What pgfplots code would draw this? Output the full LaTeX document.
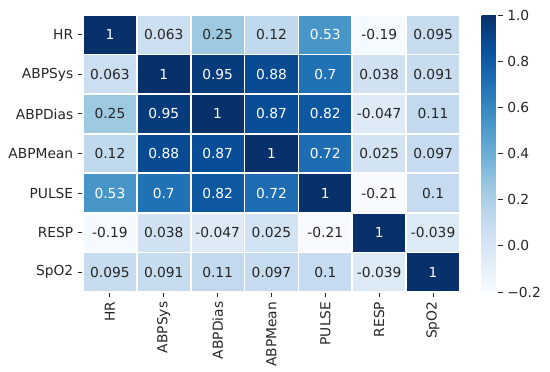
\documentclass[border=0pt]{standalone}
\usepackage{pgfplots}
\usepackage{pgfplotstable}
\pgfplotsset{compat=1.18}
\usepackage{fontspec}
\setmainfont{DejaVu Sans}
\definecolor{txt}{HTML}{262626}
\pgfplotstableread{
x y c
0 0 0.095
1 0 0.091
2 0 0.11
3 0 0.097
4 0 0.1
5 0 -0.039
6 0 1
0 1 -0.19
1 1 0.038
2 1 -0.047
3 1 0.025
4 1 -0.21
5 1 1
6 1 -0.039
0 2 0.53
1 2 0.7
2 2 0.82
3 2 0.72
4 2 1
5 2 -0.21
6 2 0.1
0 3 0.12
1 3 0.88
2 3 0.87
3 3 1
4 3 0.72
5 3 0.025
6 3 0.097
0 4 0.25
1 4 0.95
2 4 1
3 4 0.87
4 4 0.82
5 4 -0.047
6 4 0.11
0 5 0.063
1 5 1
2 5 0.95
3 5 0.88
4 5 0.7
5 5 0.038
6 5 0.091
0 6 1
1 6 0.063
2 6 0.25
3 6 0.12
4 6 0.53
5 6 -0.19
6 6 0.095
}\corr
\begin{document}
\fontsize{13.8}{16}\selectfont
\begin{tikzpicture}
\useasboundingbox (0,0) rectangle (550pt,372pt);
\begin{axis}[
  at={(83pt,80pt)}, anchor=south west,
  scale only axis, width=377pt, height=277pt,
  xmin=-0.5, xmax=6.5, ymin=-0.5, ymax=6.5,
  colormap={blues}{rgb255=(247,251,255) rgb255=(222,235,247) rgb255=(198,219,239) rgb255=(158,202,225) rgb255=(107,174,214) rgb255=(66,146,198) rgb255=(33,113,181) rgb255=(8,81,156) rgb255=(8,48,107)},
  point meta min=-0.2, point meta max=1.0,
  xtick={0,...,6}, ytick={0,...,6},
  xticklabels={HR,ABPSys,ABPDias,ABPMean,PULSE,RESP,SpO2},
  yticklabels={SpO2,RESP,PULSE,ABPMean,ABPDias,ABPSys,HR},
  xticklabel style={rotate=90, anchor=east, text=txt},
  yticklabel style={text=txt},
  ticklabel style={font=\fontsize{13.8}{16}\selectfont},
  tick align=outside, xtick pos=bottom, ytick pos=left,
  major tick length=5pt,
  tick style={color=txt, line width=0.9pt},
  minor xtick={0.5,1.5,...,5.5}, minor ytick={0.5,1.5,...,5.5},
  minor tick length=0pt,
  xminorgrids, yminorgrids,
  minor grid style={white, line width=1.8pt},
  axis line style={white, line width=1.8pt},
  axis on top,
  colorbar,
  colorbar style={
    at={(parent axis.north east)}, anchor=north west, xshift=13pt,
    width=16pt,
    ytick={-0.2,0,0.2,0.4,0.6,0.8,1.0},
    yticklabels={−0.2,0.0,0.2,0.4,0.6,0.8,1.0},
    yticklabel style={text=txt, font=\fontsize{13.8}{16}\selectfont},
    ytick pos=right, tick align=outside, major tick length=5pt,
    tick style={color=txt, line width=0.9pt},
    axis line style={draw=none},
  },
]
\addplot[matrix plot*, mesh/cols=7, point meta=explicit] table[x=x, y=y, meta=c]{\corr};
\addplot[draw=none, no marks, nodes near coords, point meta=explicit symbolic,
  nodes near coords align=center,
  every node near coord/.append style={text=txt, font=\fontsize{13.8}{16}\selectfont},
  restrict expr to domain={\thisrow{c}}{-1:0.4}, unbounded coords=discard]
  table[x=x, y=y, meta=c]{\corr};
\addplot[draw=none, no marks, nodes near coords, point meta=explicit symbolic,
  nodes near coords align=center,
  every node near coord/.append style={text=white, font=\fontsize{13.8}{16}\selectfont},
  restrict expr to domain={\thisrow{c}}{0.4:2}, unbounded coords=discard]
  table[x=x, y=y, meta=c]{\corr};
\end{axis}
\end{tikzpicture}
\end{document}
